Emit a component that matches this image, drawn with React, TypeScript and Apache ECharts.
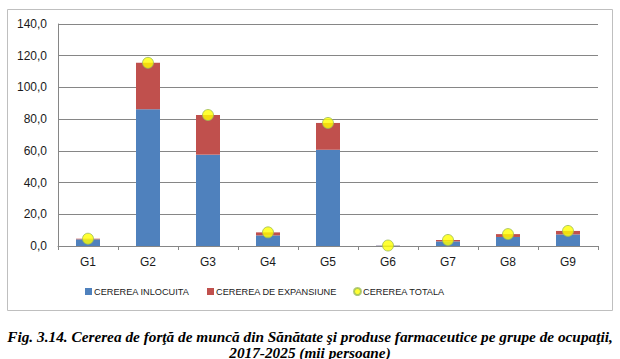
import React, { useEffect, useRef } from "react";
import * as echarts from "echarts";

const categories = ["G1", "G2", "G3", "G4", "G5", "G6", "G7", "G8", "G9"];
const inlocuita = [4.2, 86.2, 57.6, 6.7, 60.7, 0.2, 2.9, 5.7, 7.3];
const expansiune = [0.4, 29.3, 25.0, 1.9, 16.9, 0.1, 0.9, 1.8, 2.2];
const totala = [4.6, 115.5, 82.6, 8.6, 77.6, 0.3, 3.8, 7.5, 9.5];
const seriesNames = ["CEREREA INLOCUITA", "CEREREA DE EXPANSIUNE", "CEREREA TOTALA"];
const captionLines = [
  "Fig. 3.14. Cererea de forţă de muncă din Sănătate şi produse farmaceutice pe grupe de ocupaţii,",
  "2017-2025 (mii persoane)",
];

export default function App() {
  const ref = useRef<HTMLDivElement>(null);
  useEffect(() => {
    if (!ref.current) return;
    const chart = echarts.init(ref.current, undefined, { renderer: "svg" });
    const font = "'Liberation Sans', Arial, sans-serif";
    const legendBase = {
      top: 287,
      padding: 0,
      itemWidth: 7,
      itemHeight: 7,
      textStyle: {
        fontFamily: font,
        fontSize: 9.2,
        color: "#1a1a1a",
        padding: [0, 0, 0, -3],
      },
    };
    const legendLefts = [85, 207, 353];
    const icons = ["rect", "rect", "circle"];
    chart.setOption({
      animation: false,
      backgroundColor: "#ffffff",
      grid: { left: 58, right: 22, top: 24, bottom: 113 },
      legend: seriesNames.map((n, i) => ({
        ...legendBase,
        left: legendLefts[i],
        data: [{ name: n, icon: icons[i] }],
      })),
      xAxis: {
        type: "category",
        data: categories,
        axisLine: { lineStyle: { color: "#868686" } },
        axisTick: { show: true, length: 4, alignWithLabel: false, lineStyle: { color: "#868686" } },
        axisLabel: { fontFamily: font, fontSize: 12, color: "#1a1a1a", margin: 10 },
      },
      yAxis: {
        type: "value",
        min: 0,
        max: 140,
        interval: 20,
        axisLine: { show: true, lineStyle: { color: "#868686" } },
        axisTick: { show: false },
        splitLine: { lineStyle: { color: "#868686" } },
        axisLabel: {
          fontFamily: font,
          fontSize: 12,
          color: "#1a1a1a",
          margin: 11,
          formatter: (v: number) => v.toFixed(1).replace(".", ","),
        },
      },
      series: [
        {
          name: seriesNames[0],
          type: "bar",
          stack: "t",
          barWidth: 24,
          data: inlocuita,
          itemStyle: { color: "#4f81bd" },
        },
        {
          name: seriesNames[1],
          type: "bar",
          stack: "t",
          barWidth: 24,
          data: expansiune,
          itemStyle: { color: "#c0504d" },
        },
        {
          name: seriesNames[2],
          type: "scatter",
          symbol: "circle",
          symbolSize: 11,
          data: totala,
          itemStyle: { color: "#ffff00", borderColor: "#9bbb59", borderWidth: 1 },
          z: 5,
        },
      ],
      graphic: [
        {
          type: "rect",
          shape: { x: 7.5, y: 9.5, width: 605, height: 301 },
          style: { fill: "none", stroke: "#bfbfbf", lineWidth: 1 },
          z: -1,
        },
        {
          type: "text",
          x: 310,
          y: 336,
          style: {
            text: captionLines[0],
            fontFamily: "'Liberation Serif', 'Times New Roman', serif",
            fontWeight: "bold",
            fontStyle: "italic",
            fontSize: 15.3,
            fill: "#000000",
            textAlign: "center",
            textVerticalAlign: "middle",
          },
        },
        {
          type: "text",
          x: 310,
          y: 352,
          style: {
            text: captionLines[1],
            fontFamily: "'Liberation Serif', 'Times New Roman', serif",
            fontWeight: "bold",
            fontStyle: "italic",
            fontSize: 15.3,
            fill: "#000000",
            textAlign: "center",
            textVerticalAlign: "middle",
          },
        },
      ],
    });
    return () => chart.dispose();
  }, []);
  return <div ref={ref} style={{ position: "absolute", left: 0, top: 0, width: 620, height: 359 }} />;
}
